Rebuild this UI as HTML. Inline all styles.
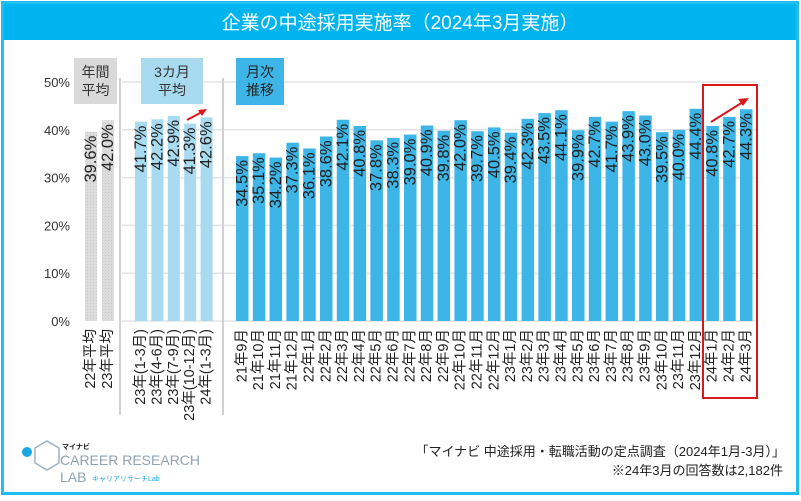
<!DOCTYPE html>
<html><head><meta charset="utf-8"><style>
body{margin:0;background:#fff;}
svg text{font-family:"Liberation Sans","Noto Sans CJK JP",sans-serif;}
</style></head><body>
<svg id="c" width="801" height="496" xmlns="http://www.w3.org/2000/svg">
<defs>
<pattern id="hatch" width="3" height="3" patternUnits="userSpaceOnUse"><rect width="3" height="3" fill="#dcdcdc"/><rect width="1" height="1" fill="#c8c8c8"/></pattern>
</defs>
<rect x="2.5" y="2.5" width="795" height="491" fill="#fff" stroke="#1fbdf0" stroke-width="3"/>
<rect x="4" y="4" width="792" height="36" fill="#00b4f0"/>
<text x="400" y="29" fill="#fff" font-size="19" text-anchor="middle">企業の中途採用実施率（2024年3月実施）</text>
<g id="grid"></g>
<g id="bars"></g>
<rect x="74" y="58" width="43" height="46" fill="#d9d9d9"/>
<text x="95.5" y="77" font-size="14" text-anchor="middle" fill="#333">年間</text>
<text x="95.5" y="95" font-size="14" text-anchor="middle" fill="#333">平均</text>
<rect x="141" y="58" width="62" height="46" fill="#a9dbf0"/>
<text x="172" y="77" font-size="14" text-anchor="middle" fill="#333">3カ月</text>
<text x="172" y="95" font-size="14" text-anchor="middle" fill="#333">平均</text>
<rect x="236" y="58" width="48" height="47" fill="#3db5e6"/>
<text x="260" y="77" font-size="14" text-anchor="middle" fill="#222">月次</text>
<text x="260" y="95" font-size="14" text-anchor="middle" fill="#222">推移</text>
<line x1="120" y1="78" x2="120" y2="415" stroke="#d0d0d0" stroke-width="2"/>
<line x1="223" y1="78" x2="223" y2="415" stroke="#d0d0d0" stroke-width="2"/>
<g><line x1="187" y1="120" x2="202" y2="112" stroke="#d9181e" stroke-width="2"/><polygon points="207,109 198,110 202,116" fill="#d9181e"/></g>
<rect x="703" y="85" width="54" height="313" fill="none" stroke="#d9181e" stroke-width="2"/>
<g><line x1="711" y1="122" x2="743" y2="102" stroke="#d9181e" stroke-width="2"/><polygon points="749,98 738,99 743,106" fill="#d9181e"/></g>
<text x="785" y="456" font-size="13" text-anchor="end" fill="#222">「マイナビ 中途採用・転職活動の定点調査（2024年1月-3月）」</text>
<text x="783" y="475" font-size="13" text-anchor="end" fill="#222">※24年3月の回答数は2,182件</text>
<g>
<circle cx="27" cy="452" r="5" fill="#1aa7e0"/>
<polygon points="35,448 47,441 59,448 59,463 47,470 35,463" fill="none" stroke="#9fb0bd" stroke-width="1.5"/>
<text x="62" y="449" font-size="7" font-weight="bold" fill="#222">マイナビ</text>
<text x="60" y="465" font-size="14" fill="#8fa3b3">CAREER RESEARCH</text>
<text x="60" y="482" font-size="14" fill="#8fa3b3">LAB</text>
<text x="92" y="481" font-size="7" fill="#1aa7e0">キャリアリサーチLab</text>
</g>
</svg>
<script>
const annualLabels=["22年平均","23年平均"];
const annualValues=[39.6,42.0];
const quarterLabels=["23年(1-3月)","23年(4-6月)","23年(7-9月)","23年(10-12月)","24年(1-3月)"];
const quarterValues=[41.7,42.2,42.9,41.3,42.6];
const monthLabels=["21年9月","21年10月","21年11月","21年12月","22年1月","22年2月","22年3月","22年4月","22年5月","22年6月","22年7月","22年8月","22年9月","22年10月","22年11月","22年12月","23年1月","23年2月","23年3月","23年4月","23年5月","23年6月","23年7月","23年8月","23年9月","23年10月","23年11月","23年12月","24年1月","24年2月","24年3月"];
const monthValues=[34.5,35.1,34.2,37.3,36.1,38.6,42.1,40.8,37.8,38.3,39.0,40.9,39.8,42.0,39.7,40.5,39.4,42.3,43.5,44.1,39.9,42.7,41.7,43.9,43.0,39.5,40.0,44.4,40.8,42.7,44.3];
const yTicks=[0,10,20,30,40,50];
const NS="http://www.w3.org/2000/svg";
const y0=321,pxPer=4.78;
function yS(v){return y0-v*pxPer;}
function mk(t,a,p){const e=document.createElementNS(NS,t);for(const k in a)e.setAttribute(k,a[k]);p.appendChild(e);return e;}
const grid=document.getElementById('grid'),bars=document.getElementById('bars');
yTicks.forEach(t=>{
  const l=mk('line',{x1:122,x2:757,y1:yS(t),y2:yS(t),stroke:'#e3e3e3','stroke-width':1.5},grid);
  
  
  const tx=mk('text',{x:70,y:yS(t)+5,'font-size':13,'text-anchor':'end',fill:'#333'},grid);
  tx.textContent=t+'%';
  
  
});
function series(labels,values,x0,step,w,fill,name,tcol){
  values.forEach((v,i)=>{
    const x=x0+i*step,top=yS(v),cx=x+w/2;
    const r=mk('rect',{x:x,y:top,width:w,height:y0-top,fill:fill},bars);
    
    
    const t=mk('text',{x:0,y:0,'font-size':16.5,fill:tcol,'text-anchor':'end','dominant-baseline':'central',transform:`translate(${cx},${top+4}) rotate(-90)`},bars);
    t.textContent=v.toFixed(1)+'%';
    
    
    const lb=mk('text',{x:0,y:0,'font-size':14.5,fill:'#222','text-anchor':'end','dominant-baseline':'central',transform:`translate(${cx},${329}) rotate(-90)`},bars);
    lb.textContent=labels[i];
    
    
  });
}
series(annualLabels,annualValues,85,17,12,'url(#hatch)','annual','#222');
series(quarterLabels,quarterValues,135,16.4,12,'#a9dbf0','quarter','#222');
series(monthLabels,monthValues,236,16.8,12.5,'#3db5e6','month','#222');
</script>
</body></html>
